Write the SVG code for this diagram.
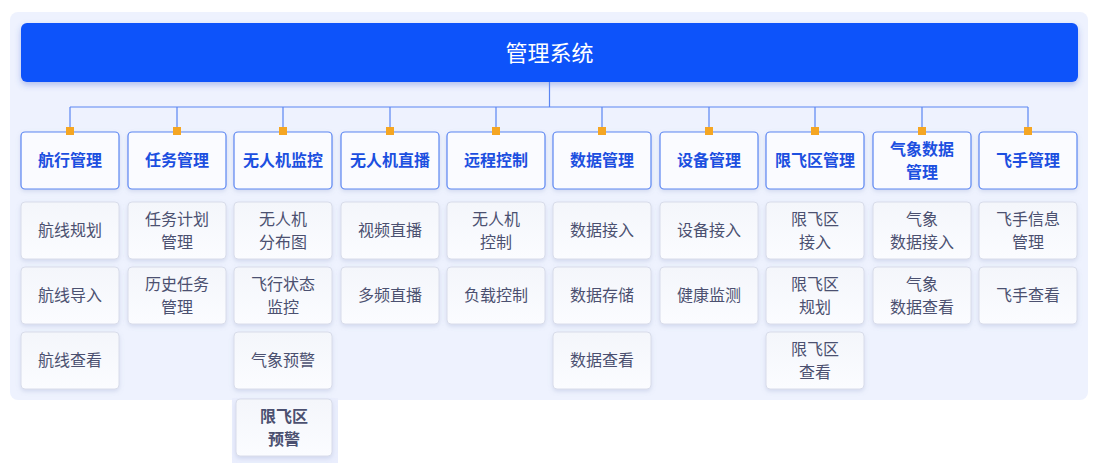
<svg xmlns="http://www.w3.org/2000/svg" width="1099" height="463" viewBox="0 0 1099 463">
<defs>
<filter id="sh" x="-10%" y="-30%" width="120%" height="160%"><feDropShadow dx="0" dy="3" stdDeviation="3" flood-color="#3a5fd0" flood-opacity="0.35"/></filter>
<filter id="sh2" x="-10%" y="-10%" width="120%" height="130%"><feDropShadow dx="0" dy="2" stdDeviation="2" flood-color="#8090c0" flood-opacity="0.25"/></filter>
<linearGradient id="sub" x1="0" y1="0" x2="0" y2="1"><stop offset="0" stop-color="#f4f6fb"/><stop offset="1" stop-color="#fbfcff"/></linearGradient>
</defs>
<style>
.l1 rect{fill:#fafbff;stroke:#5b86f2;stroke-width:1.2}
.l1 text{font-family:"Noto Sans CJK SC",sans-serif;font-size:16px;font-weight:bold;fill:#1c4fe0;text-anchor:middle}
.l2 rect{fill:url(#sub);stroke:#d8dcea;stroke-width:1}
.l2 text{font-family:"Noto Sans CJK SC",sans-serif;font-size:16px;fill:#4b5070;text-anchor:middle}
.dot{fill:#f5a623}
</style>
<rect x="0" y="0" width="1099" height="463" fill="#fff"/>
<rect x="10" y="12" width="1078" height="388" rx="8" fill="#eef2fe"/>
<rect x="232" y="398" width="106" height="65" fill="#eaeefd"/>
<g id="root"><rect x="21" y="23" width="1057" height="59" rx="6" fill="#0b52fa" filter="url(#sh)"/>
<text x="549.5" y="61" font-family="Noto Sans CJK SC,sans-serif" font-size="22" fill="#fff" text-anchor="middle">管理系统</text></g>
<g id="connectors" stroke="#5b86f2" stroke-width="1.2" fill="none">
<path d="M549.5 82V107M70 107H1028M70 107V131M177 107V131M283 107V131M390 107V131M496 107V131M602 107V131M709 107V131M815 107V131M922 107V131M1028 107V131"/>
</g>
<g id="l1" class="l1">
<g id="n1"><rect x="21" y="132" width="98" height="57" rx="4" filter="url(#sh2)"/><text x="70" y="166">航行管理</text></g>
<g id="n2"><rect x="128" y="132" width="98" height="57" rx="4" filter="url(#sh2)"/><text x="177" y="166">任务管理</text></g>
<g id="n3"><rect x="234" y="132" width="98" height="57" rx="4" filter="url(#sh2)"/><text x="283" y="166">无人机监控</text></g>
<g id="n4"><rect x="341" y="132" width="98" height="57" rx="4" filter="url(#sh2)"/><text x="390" y="166">无人机直播</text></g>
<g id="n5"><rect x="447" y="132" width="98" height="57" rx="4" filter="url(#sh2)"/><text x="496" y="166">远程控制</text></g>
<g id="n6"><rect x="553" y="132" width="98" height="57" rx="4" filter="url(#sh2)"/><text x="602" y="166">数据管理</text></g>
<g id="n7"><rect x="660" y="132" width="98" height="57" rx="4" filter="url(#sh2)"/><text x="709" y="166">设备管理</text></g>
<g id="n8"><rect x="766" y="132" width="98" height="57" rx="4" filter="url(#sh2)"/><text x="815" y="166">限飞区管理</text></g>
<g id="n9"><rect x="873" y="132" width="98" height="57" rx="4" filter="url(#sh2)"/><text x="922" y="155">气象数据</text><text x="922" y="178">管理</text></g>
<g id="n10"><rect x="979" y="132" width="98" height="57" rx="4" filter="url(#sh2)"/><text x="1028" y="166">飞手管理</text></g>
</g>
<g class="dot"><rect x="66" y="127" width="8" height="8"/><rect x="173" y="127" width="8" height="8"/><rect x="279" y="127" width="8" height="8"/><rect x="386" y="127" width="8" height="8"/><rect x="492" y="127" width="8" height="8"/><rect x="598" y="127" width="8" height="8"/><rect x="705" y="127" width="8" height="8"/><rect x="811" y="127" width="8" height="8"/><rect x="918" y="127" width="8" height="8"/><rect x="1024" y="127" width="8" height="8"/></g>
<g id="l2" class="l2">
<g><rect x="21" y="202" width="98" height="57" rx="4" filter="url(#sh2)"/><text x="70" y="236">航线规划</text></g>
<g><rect x="21" y="267" width="98" height="57" rx="4" filter="url(#sh2)"/><text x="70" y="301">航线导入</text></g>
<g><rect x="21" y="332" width="98" height="57" rx="4" filter="url(#sh2)"/><text x="70" y="366">航线查看</text></g>
<g><rect x="128" y="202" width="98" height="57" rx="4" filter="url(#sh2)"/><text x="177" y="225">任务计划</text><text x="177" y="248">管理</text></g>
<g><rect x="128" y="267" width="98" height="57" rx="4" filter="url(#sh2)"/><text x="177" y="290">历史任务</text><text x="177" y="313">管理</text></g>
<g><rect x="234" y="202" width="98" height="57" rx="4" filter="url(#sh2)"/><text x="283" y="225">无人机</text><text x="283" y="248">分布图</text></g>
<g><rect x="234" y="267" width="98" height="57" rx="4" filter="url(#sh2)"/><text x="283" y="290">飞行状态</text><text x="283" y="313">监控</text></g>
<g><rect x="234" y="332" width="98" height="57" rx="4" filter="url(#sh2)"/><text x="283" y="366">气象预警</text></g>
<g><rect x="236" y="399" width="96" height="57" rx="4" filter="url(#sh2)"/><text x="284" y="422" font-weight="bold">限飞区</text><text x="284" y="445" font-weight="bold">预警</text></g>
<g><rect x="341" y="202" width="98" height="57" rx="4" filter="url(#sh2)"/><text x="390" y="236">视频直播</text></g>
<g><rect x="341" y="267" width="98" height="57" rx="4" filter="url(#sh2)"/><text x="390" y="301">多频直播</text></g>
<g><rect x="447" y="202" width="98" height="57" rx="4" filter="url(#sh2)"/><text x="496" y="225">无人机</text><text x="496" y="248">控制</text></g>
<g><rect x="447" y="267" width="98" height="57" rx="4" filter="url(#sh2)"/><text x="496" y="301">负载控制</text></g>
<g><rect x="553" y="202" width="98" height="57" rx="4" filter="url(#sh2)"/><text x="602" y="236">数据接入</text></g>
<g><rect x="553" y="267" width="98" height="57" rx="4" filter="url(#sh2)"/><text x="602" y="301">数据存储</text></g>
<g><rect x="553" y="332" width="98" height="57" rx="4" filter="url(#sh2)"/><text x="602" y="366">数据查看</text></g>
<g><rect x="660" y="202" width="98" height="57" rx="4" filter="url(#sh2)"/><text x="709" y="236">设备接入</text></g>
<g><rect x="660" y="267" width="98" height="57" rx="4" filter="url(#sh2)"/><text x="709" y="301">健康监测</text></g>
<g><rect x="766" y="202" width="98" height="57" rx="4" filter="url(#sh2)"/><text x="815" y="225">限飞区</text><text x="815" y="248">接入</text></g>
<g><rect x="766" y="267" width="98" height="57" rx="4" filter="url(#sh2)"/><text x="815" y="290">限飞区</text><text x="815" y="313">规划</text></g>
<g><rect x="766" y="332" width="98" height="57" rx="4" filter="url(#sh2)"/><text x="815" y="355">限飞区</text><text x="815" y="378">查看</text></g>
<g><rect x="873" y="202" width="98" height="57" rx="4" filter="url(#sh2)"/><text x="922" y="225">气象</text><text x="922" y="248">数据接入</text></g>
<g><rect x="873" y="267" width="98" height="57" rx="4" filter="url(#sh2)"/><text x="922" y="290">气象</text><text x="922" y="313">数据查看</text></g>
<g><rect x="979" y="202" width="98" height="57" rx="4" filter="url(#sh2)"/><text x="1028" y="225">飞手信息</text><text x="1028" y="248">管理</text></g>
<g><rect x="979" y="267" width="98" height="57" rx="4" filter="url(#sh2)"/><text x="1028" y="301">飞手查看</text></g>
</g>
</svg>
